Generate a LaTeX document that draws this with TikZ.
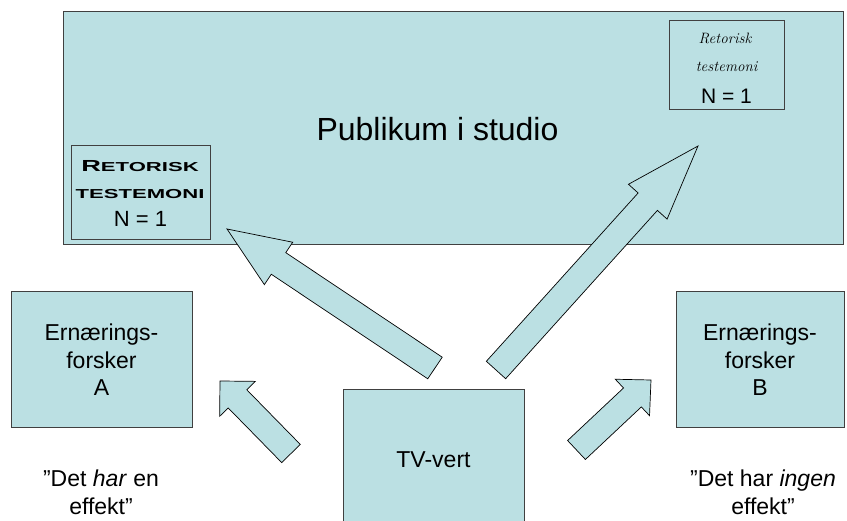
\documentclass[tikz,border=0pt]{standalone}
\usepackage{fontspec}
\setmainfont{Liberation Sans}
\newfontfamily\lmfont{Latin Modern Roman}
\usetikzlibrary{calc}

% block arrow: tail, tip, half shaft, half head, head length
\newcommand{\blockarrow}[5]{%
  \coordinate (neck) at ($(#2)!#5!(#1)$);
  \draw[bigarrow] ($(#1)!#3!90:(#2)$) -- ($(neck)!#3!90:(#2)$) -- ($(neck)!#4!90:(#2)$) -- (#2)
    -- ($(neck)!#4!-90:(#2)$) -- ($(neck)!#3!-90:(#2)$) -- ($(#1)!#3!-90:(#2)$) -- cycle;}

\begin{document}
\begin{tikzpicture}[x=1pt,y=-1pt,
  box/.style={draw=black!75,line width=1pt,fill=paleblue,inner sep=0pt},
  bigarrow/.style={draw=black,line width=0.7pt,fill=paleblue,line join=miter},
  txt/.style={font=\fontsize{23}{27.5}\selectfont,align=center,inner sep=0pt},
  script/.style={font=\lmfont\itshape\fontsize{15}{17}\selectfont,inner sep=0pt},
  caps/.style={font=\bfseries,inner sep=0pt,anchor=base}]
\definecolor{paleblue}{RGB}{187,224,227}
\useasboundingbox (0,0) rectangle (847,521);
\clip (0,0) rectangle (847,521);

\node[box,minimum width=780pt,minimum height=233pt] (studio) at (453,128.5) {};
\node[font=\fontsize{32}{38}\selectfont,inner sep=0pt,anchor=base] (publikum) at (437.5,141) {Publikum i studio};

\node[box,minimum width=115pt,minimum height=89pt] (testR) at (726.5,65) {};
\node[script] (retR) at (725,38) {Retorisk};
\node[script] (tesR) at (726.5,67) {testemoni};
\node[txt,font=\fontsize{21}{25}\selectfont,anchor=base] (nR) at (726.5,104) {N = 1};

\node[box,minimum width=139pt,minimum height=94pt] (testL) at (140.5,193) {};
\node[caps] (retL) at (140,172) {\scalebox{1.7}[1]{{\fontsize{16}{18}\selectfont R}{\fontsize{13}{15}\selectfont ETORISK}}};
\node[caps] (tesL) at (140,199) {\scalebox{1.7}[1]{\fontsize{13}{15}\selectfont TESTEMONI}};
\node[txt,font=\fontsize{22}{25}\selectfont,anchor=base] (nL) at (140.5,227) {N = 1};

\node[box,txt,minimum width=181pt,minimum height=136pt] (forskA) at (101.5,360) {Ernærings-\\forsker\\A};
\node[box,txt,minimum width=168pt,minimum height=136pt] (forskB) at (760,360) {Ernærings-\\forsker\\B};
\node[box,txt,minimum width=181pt,minimum height=140pt] (vert) at (433.5,460) {TV-vert};

\node[txt,anchor=north] (citA) at (101,470) {”Det \textit{har} en\\effekt”};
\node[txt,anchor=north] (citB) at (763,470) {”Det har \textit{ingen}\\effekt”};

% arrows from the host
\coordinate (a1tail) at (435,368);
\coordinate (a1tip) at (227,229);
\coordinate (a2tail) at (496,370);
\coordinate (a2tip) at (698,146);
\coordinate (a3tail) at (291,453.5);
\coordinate (a3tip) at (220,381);
\coordinate (a4tail) at (576.5,450);
\coordinate (a4tip) at (651,380);
\blockarrow{a1tail}{a1tip}{13pt}{25.5pt}{62pt}
\blockarrow{a2tail}{a2tip}{13pt}{26pt}{75pt}
\blockarrow{a3tail}{a3tip}{13pt}{25pt}{25pt}
\blockarrow{a4tail}{a4tip}{13pt}{25pt}{25.5pt}
\end{tikzpicture}
\end{document}
